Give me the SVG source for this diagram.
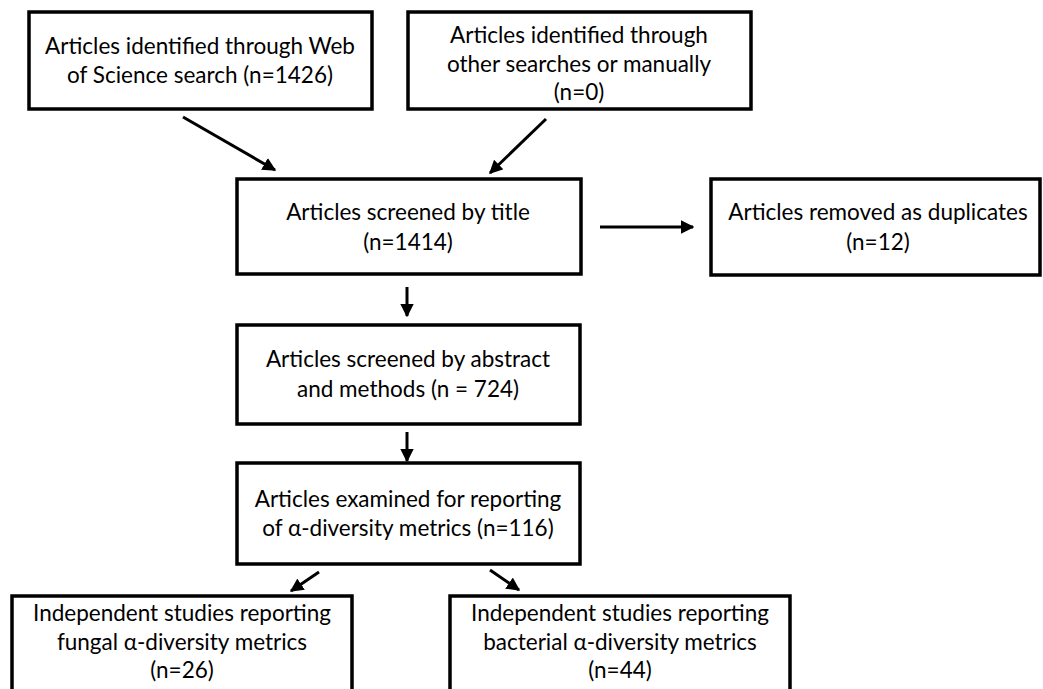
<svg xmlns="http://www.w3.org/2000/svg" width="1043" height="689" viewBox="0 0 1043 689">
<style>
.box{fill:#fff;stroke:#000;stroke-width:3.5}
.t{font-family:Lato,"Liberation Sans",sans-serif;font-size:22.5px;fill:#000;text-anchor:middle}
.c{stroke:#000;stroke-width:3;fill:none;marker-end:url(#ah)}
</style>
<defs>
<marker id="ah" viewBox="0 0 10 10" refX="9" refY="5" markerWidth="4.5" markerHeight="4.5" orient="auto" markerUnits="strokeWidth">
<path d="M0,0 L10,5 L0,10 z" fill="#000"/>
</marker>
</defs>
<rect width="1043" height="689" fill="#fff"/>
<g id="connectors">
<line class="c" x1="183" y1="117" x2="275" y2="170"/>
<line class="c" x1="546" y1="119" x2="490" y2="173"/>
<line class="c" x1="600" y1="227" x2="693" y2="227"/>
<line class="c" x1="407" y1="287" x2="407" y2="316"/>
<line class="c" x1="407" y1="432" x2="407" y2="461"/>
<line class="c" x1="319" y1="572" x2="291" y2="591"/>
<line class="c" x1="490" y1="570" x2="519" y2="590"/>
</g>
<g id="n1">
<rect class="box" x="29" y="12" width="343" height="97"/>
<text class="t" x="200" y="54">Articles identified through Web</text>
<text class="t" x="200" y="83">of Science search (n=1426)</text>
</g>
<g id="n2">
<rect class="box" x="408" y="12" width="343" height="97"/>
<text class="t" x="579" y="43">Articles identified through</text>
<text class="t" x="579" y="72">other searches or manually</text>
<text class="t" x="579" y="100">(n=0)</text>
</g>
<g id="n3">
<rect class="box" x="237" y="179" width="344" height="95"/>
<text class="t" x="408" y="220">Articles screened by title</text>
<text class="t" x="408" y="250">(n=1414)</text>
</g>
<g id="n4">
<rect class="box" x="711" y="179" width="329" height="96"/>
<text class="t" x="878" y="220">Articles removed as duplicates</text>
<text class="t" x="878" y="250">(n=12)</text>
</g>
<g id="n5">
<rect class="box" x="237" y="325" width="343" height="99"/>
<text class="t" x="408" y="367">Articles screened by abstract</text>
<text class="t" x="408" y="397">and methods (n = 724)</text>
</g>
<g id="n6">
<rect class="box" x="237" y="463" width="343" height="101"/>
<text class="t" x="408" y="507">Articles examined for reporting</text>
<text class="t" x="408" y="536">of α-diversity metrics (n=116)</text>
</g>
<g id="n7">
<rect class="box" x="12" y="596" width="340" height="110"/>
<text class="t" x="182" y="621">Independent studies reporting</text>
<text class="t" x="182" y="650">fungal α-diversity metrics</text>
<text class="t" x="182" y="678">(n=26)</text>
</g>
<g id="n8">
<rect class="box" x="450" y="596" width="340" height="110"/>
<text class="t" x="620" y="621">Independent studies reporting</text>
<text class="t" x="620" y="650">bacterial α-diversity metrics</text>
<text class="t" x="620" y="678">(n=44)</text>
</g>
</svg>
